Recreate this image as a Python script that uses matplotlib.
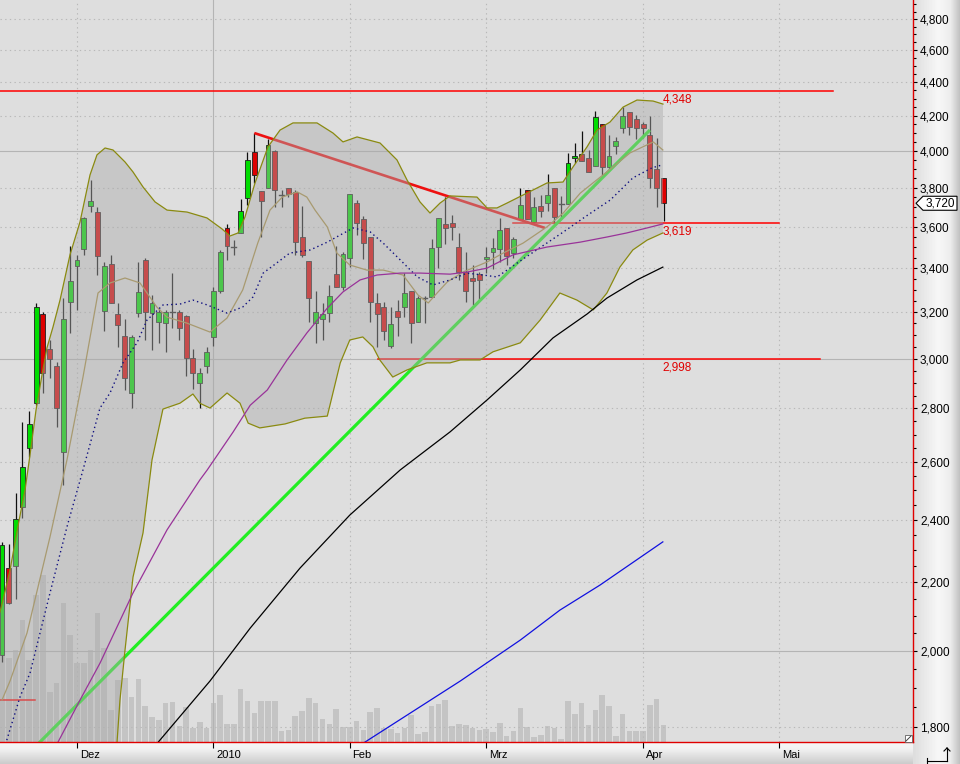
import numpy as np
import matplotlib
matplotlib.use("Agg")
import matplotlib.pyplot as plt
import matplotlib.transforms as mtransforms
from matplotlib.patches import Rectangle, Polygon
from matplotlib.ticker import FixedLocator, NullFormatter, FuncFormatter

plt.rcParams['font.family'] = ['Liberation Sans', 'DejaVu Sans']

# ---------------- data (x = trading-day index, 0 = 1 Dec 2009) ----------------
first_idx = -11
opens = [1990, 2244, 2250, 2442, 2650, 2820, 3191, 3040, 2969, 2636, 3244,
         3410, 3492, 3706, 3675, 3204, 3420, 3191, 3095, 2860, 3196,
         3439, 3196, 3156, 3151, 3200, 3200, 3182, 3002, 2900, 2969,
         3091, 3294, 3595, 3501, 3570, 3747, 3994, 3784, 3800, 4000,
         3763, 3800, 3779, 3550, 3434, 3151, 3168, 3196, 3372, 3312,
         3449, 3721, 3640, 3550, 3240, 3222, 3053, 3204, 3222, 3294,
         3156, 3262, 3267, 3501, 3615, 3620, 3501, 3382, 3354, 3372,
         3444, 3477, 3492, 3595, 3472, 3640, 3789, 3625, 3706, 3721,
         3800, 3716, 3716, 3961, 3983, 3961, 3918, 4151, 3912, 4028,
         4129, 4221, 4181, 4151, 4089, 3901, 3853]
highs = [2327, 2320, 2490, 2747, 2789, 3240, 3200, 3078, 2986, 3262, 3506,
         3463, 3650, 3842, 3700, 3429, 3463, 3240, 3168, 3100, 3429,
         3449, 3276, 3213, 3209, 3377, 3209, 3187, 3040, 2961, 3049,
         3312, 3487, 3615, 3535, 3742, 3994, 4100, 3784, 4066, 4005,
         3789, 3800, 3789, 3706, 3434, 3294, 3240, 3322, 3506, 3477,
         3768, 3737, 3655, 3550, 3285, 3244, 3222, 3253, 3377, 3294,
         3271, 3271, 3540, 3645, 3752, 3660, 3570, 3477, 3415, 3382,
         3501, 3545, 3645, 3595, 3550, 3800, 3789, 3752, 3763, 3874,
         3800, 3758, 3989, 4044, 4112, 4005, 4227, 4151, 4089, 4078,
         4250, 4221, 4204, 4163, 4198, 4072, 3853]
lows = [1970, 2136, 2150, 2406, 2618, 2812, 2860, 2920, 2728, 2517, 3108,
        3209, 3463, 3675, 3368, 3117, 3238, 3049, 2872, 2800, 3178,
        3078, 3036, 3066, 3028, 3130, 3078, 2928, 2876, 2800, 2941,
        3053, 3285, 3439, 3463, 3570, 3711, 3826, 3550, 3800, 3700,
        3700, 3752, 3463, 3453, 3156, 3066, 3078, 3156, 3312, 3299,
        3405, 3560, 3444, 3156, 3049, 3078, 3045, 3095, 3178, 3066,
        3156, 3151, 3267, 3400, 3515, 3535, 3345, 3244, 3231, 3253,
        3377, 3396, 3429, 3415, 3449, 3640, 3640, 3620, 3650, 3680,
        3615, 3640, 3716, 3934, 3945, 3885, 3918, 3869, 3896, 3983,
        4100, 4089, 4066, 4072, 3800, 3700, 3630]
closes = [2317, 2138, 2402, 2582, 2740, 3221, 2941, 3000, 2800, 3168, 3340,
          3439, 3645, 3732, 3458, 3410, 3240, 3143, 2920, 3091, 3290,
          3200, 3240, 3200, 3200, 3200, 3130, 3003, 2941, 2941, 3028,
          3294, 3477, 3506, 3501, 3680, 3950, 3869, 3732, 4033, 3789,
          3763, 3768, 3525, 3463, 3262, 3200, 3191, 3271, 3312, 3468,
          3768, 3620, 3520, 3244, 3191, 3117, 3147, 3177, 3285, 3151,
          3262, 3262, 3496, 3645, 3595, 3600, 3382, 3294, 3340, 3345,
          3453, 3496, 3585, 3458, 3540, 3711, 3640, 3700, 3680, 3763,
          3650, 3716, 3934, 3972, 3945, 3885, 4192, 3912, 3972, 4055,
          4198, 4135, 4129, 4129, 3853, 3800, 3720]
volumes = [920, 840, 920, 1220, 820, 1470, 1670, 500, 590, 1390, 1070,
           790, 790, 920, 1290, 940, 320, 620, 640, 450, 630,
           360, 250, 220, 390, 400, 160, 350, 140, 200, 140,
           390, 470, 180, 180, 530, 410, 290, 410, 410, 410,
           110, 120, 260, 310, 440, 390, 230, 180, 330, 150,
           150, 210, 120, 300, 340, 140, 130, 90, 140, 270,
           80, 100, 360, 380, 420, 160, 180, 170, 140, 120,
           130, 100, 190, 60, 110, 340, 150, 50, 70, 160,
           140, 30, 410, 280, 390, 170, 320, 470, 360, 60,
           280, 110, 110, 110, 370, 430, 170]

bb_upper_x = [-11.3, -10.85, -9.82, -8.65, -7.62, -6.89, -6.01, -5.13, -4.40, -3.52,
              -2.49, -1.03, 0.44, 1.91, 2.93, 4.11, 5.28, 7.04, 8.21, 9.68,
              11.44, 13.2, 16.13, 19.06, 21.26, 22.43, 23.61, 24.63, 26.1, 28.0,
              29.77, 31.67, 35.19, 37.54, 39.0, 41.06, 44.43, 46.92, 48.39, 50.29,
              51.76, 53.23, 54.69, 58.65, 60.12, 61.58, 63.05, 65.98, 68.91, 71.26,
              72.73, 74.78, 76.25, 78.15, 80.06, 82.11, 84.46, 85.92]
bb_upper = [2111, 2147, 2238, 2379, 2500, 2625, 2793, 2933, 3045, 3134,
            3253, 3463, 3625, 3869, 3978, 4016, 4005, 3939, 3885, 3805,
            3727, 3685, 3675, 3645, 3590, 3555, 3570, 3650, 3826, 4022,
            4117, 4158, 4158, 4100, 4050, 4078, 4044, 3950, 3842, 3727,
            3670, 3721, 3758, 3752, 3696, 3696, 3721, 3773, 3826, 3831,
            3912, 4022, 4117, 4163, 4250, 4292, 4286, 4268]
bb_lower_x = [-11.3, 5.5, 5.87, 6.30, 7.04, 8.21, 9.68, 11.0, 12.6, 15.1,
              17.0, 18.0, 19.5, 22.0, 23.9, 25.1, 26.8, 30.5, 33.4, 36.7,
              38.6, 40.0, 41.9, 43.4, 44.4, 46.3, 48.4, 51.3, 54.7, 56.2,
              59.1, 61.0, 65.0, 67.9, 70.8, 73.3, 75.7, 77.7, 79.6, 81.5,
              83.6, 85.9]
bb_lower = [1500, 1650, 1763, 1869, 2003, 2216, 2356, 2607, 2797, 2820,
            2856, 2820, 2801, 2860, 2820, 2743, 2725, 2740, 2762, 2770,
            2982, 3078, 3091, 3049, 2994, 2924, 2953, 2982, 2982, 2994,
            2994, 3028, 3066, 3164, 3285, 3253, 3209, 3285, 3405, 3487,
            3535, 3570]
bb_mid_x = [-11.0, -9.82, -7.33, -3.96, -1.47, 0.88, 3.08, 4.84, 7.04, 9.24,
            11.7, 13.2, 16.1, 19.5, 22.0, 24.3, 26.5, 28.3, 30.1, 32.3,
            33.7, 34.9, 36.7, 38.1, 40.0, 42.5, 44.9, 47.8, 50.0, 51.5,
            52.8, 54.3, 56.6, 60.1, 62.5, 65.4, 68.9, 71.3, 73.8, 76.2,
            78.6, 81.1, 84.5, 85.9]
bb_mid = [1869, 1919, 2051, 2343, 2607, 2924, 3285, 3331, 3354, 3331,
          3222, 3177, 3151, 3112, 3173, 3299, 3520, 3685, 3752, 3779,
          3752, 3685, 3600, 3472, 3415, 3391, 3391, 3368, 3276, 3240,
          3285, 3336, 3382, 3429, 3472, 3520, 3600, 3670, 3773, 3842,
          3912, 3989, 4050, 4005]
ma_dot_x = [-10.3, -8.36, -6.89, -3.96, -1.47, 0.88, 3.37, 4.84, 6.74, 8.80,
            10.26, 12.61, 15.10, 17.0, 19.1, 22.0, 24.3, 25.8, 27.3, 29.3,
            31.2, 34.2, 36.7, 38.6, 40.5, 43.0, 44.9, 47.4, 49.9, 52.2,
            54.7, 57.2, 59.5, 61.6, 65.2, 71.1, 74.9, 78.2, 81.5, 84.3, 85.8]
ma_dot = [1768, 1877, 1940, 2168, 2376, 2571, 2801, 2860, 2982, 3066,
          3164, 3231, 3235, 3253, 3231, 3195, 3222, 3267, 3377, 3425,
          3472, 3487, 3525, 3560, 3595, 3575, 3520, 3439, 3359, 3322,
          3345, 3377, 3368, 3359, 3439, 3570, 3660, 3737, 3853, 3907, 3923]
ma_purple_x = [-2.79, 0.44, 3.37, 8.21, 13.2, 18.0, 19.1, 22.9, 25.4, 27.9,
               30.8, 33.7, 36.7, 39.0, 41.5, 44.0, 47.4, 50.3, 54.7, 57.2,
               60.1, 63.9, 68.9, 73.8, 77.7, 80.6, 83.6, 85.9]
ma_purple = [1763, 1869, 1967, 2168, 2366, 2535, 2571, 2710, 2812, 2872,
             2994, 3108, 3217, 3290, 3345, 3368, 3377, 3377, 3372, 3382,
             3400, 3463, 3501, 3525, 3550, 3570, 3595, 3615]
ma_black_x = [11.9, 19.5, 25.4, 32.7, 40.0, 47.4, 54.7, 60.1, 65.0, 69.8, 74.8, 77.7, 82.1, 85.9]
ma_black = [1763, 1919, 2065, 2244, 2415, 2571, 2710, 2832, 2953, 3087, 3191, 3262, 3345, 3405]
ma_blue_x = [42.2, 56.2, 65.0, 70.8, 76.7, 85.9]
ma_blue = [1763, 1919, 2031, 2117, 2192, 2327]

trend_green_x = [-6.0, 84.0]
trend_green = [1754, 4117]
trend_red_x = [26.0, 68.6]
trend_red = [4100, 3595]

levels = [4348, 3619, 2998]
level_x0 = [-11.3, 63.9, 44.1]
level_x1 = [110.9, 102.9, 108.9]
old_level = 1869
old_level_x = [-11.3, -6.2]
last_price = 3720

month_idx = [0, 20, 40, 60, 83, 103]
month_labels = ["Dez", "2010", "Feb", "Mrz", "Apr", "Mai"]
major_ticks = [1800, 2000, 2200, 2400, 2600, 2800, 3000, 3200, 3400, 3600,
               3800, 4000, 4200, 4400, 4600, 4800]

# ---------------- figure layout ----------------
W, H = 960, 764
fig = plt.figure(figsize=(W / 100, H / 100), dpi=100)
fig.patch.set_facecolor('#D8D8D8')
PW, PH = 913, 742      # plot area in px (top-left anchored)

def fpt(x, y):
    return (x / W, 1 - y / H)

# gradient panels
ax_r = fig.add_axes([PW / W, 0, (W - PW) / W, 1], zorder=-2)
gr = np.interp(np.linspace(0, 1, 64), [0, 0.55, 0.8, 1.0], [0.87, 0.97, 0.93, 0.76])
ax_r.imshow(np.tile(gr, (2, 1))[:, :, None] * np.ones(3), aspect='auto', extent=[0, 1, 0, 1])
ax_r.set_axis_off()
ax_b = fig.add_axes([0, 0, PW / W, (H - PH) / H], zorder=-2)
gb = np.interp(np.linspace(0, 1, 32), [0, 0.3, 1], [0.97, 0.95, 0.80])
ax_b.imshow(gb[:, None, None] * np.ones((1, 2, 3)), aspect='auto', extent=[0, 1, 0, 1])
ax_b.set_axis_off()

rect = [0, (H - PH) / H, PW / W, PH / H]
ax_vol = fig.add_axes(rect, zorder=0)
ax = fig.add_axes(rect, zorder=1, sharex=ax_vol)
ax.patch.set_visible(False)

idx = np.arange(first_idx, first_idx + len(opens))

# volume
ax_vol.set_facecolor('#DEDEDE')
ax_vol.bar(idx, volumes, width=0.82, color='#C4C4C4', linewidth=0)
ax_vol.set_ylim(0, 7420)
ax_vol.set_yticks([])
for s in ax_vol.spines.values():
    s.set_visible(False)

# price axes
ax.set_yscale('log')
ax.set_xlim(-11.29, 122.58)
ax.set_ylim(1763.5, 4930)

# grid
for v in major_ticks:
    if v in (2000, 3000, 4000):
        ax.axhline(v, color='#B4B4B4', lw=0.8, zorder=0.5)
    else:
        ax.axhline(v, color='#B8B8B8', lw=0.8, ls=(0, (1.2, 3)), zorder=0.5)
for m, lab in zip(month_idx, month_labels):
    if lab == "2010":
        ax.axvline(m, color='#B4B4B4', lw=0.8, zorder=0.5)
    else:
        ax.axvline(m, color='#B8B8B8', lw=0.8, ls=(0, (1.2, 3)), zorder=0.5)

# candles
bw = 0.72
for i, o, h, l, c in zip(idx, opens, highs, lows, closes):
    ax.plot([i, i], [l, h], color='#101010', lw=0.9, zorder=2, solid_capstyle='butt')
    if abs(c - o) < 2:
        ax.plot([i - bw / 2, i + bw / 2], [c, c], color='#202020', lw=1.0, zorder=2.1)
    else:
        col = '#00DD00' if c > o else '#DD0000'
        ax.add_patch(Rectangle((i - bw / 2, min(o, c)), bw, abs(c - o), facecolor=col,
                               edgecolor='#202020', lw=0.6, zorder=2.1))

# trend lines and levels (under band shading)
ax.plot(trend_green_x, trend_green, color='#22EE22', lw=2.3, zorder=2.5, solid_capstyle='butt')
ax.plot(trend_red_x, trend_red, color='#EE1010', lw=1.9, zorder=2.5, solid_capstyle='butt')
for lv, x0, x1 in zip(levels, level_x0, level_x1):
    ax.plot([x0, x1], [lv, lv], color='#FF0000', lw=1.1, zorder=2.4)
    ax.annotate(f"{lv:,}", xy=(idx[-1] - 0.1, lv), xytext=(0, -2), textcoords='offset points',
                ha='left', va='top', color='#E00000', fontsize=8.5, zorder=10)
ax.plot(old_level_x, [old_level, old_level], color='#FF0000', lw=1.1, zorder=2.4)

# Bollinger band shading
poly = list(zip(bb_upper_x, bb_upper)) + list(zip(bb_lower_x[::-1], bb_lower[::-1]))
ax.add_patch(Polygon(poly, closed=True, facecolor='#ABABAB', alpha=0.45, lw=0, zorder=3))
ax.plot(bb_upper_x, bb_upper, color='#8A8A10', lw=0.9, zorder=4)
ax.plot(bb_lower_x, bb_lower, color='#8A8A10', lw=0.9, zorder=4)
ax.plot(bb_mid_x, bb_mid, color='#A89A70', lw=0.9, zorder=4)

# moving averages
ax.plot(ma_dot_x, ma_dot, color='#101080', lw=1.0, ls=(0, (1, 2.2)), zorder=5)
ax.plot(ma_purple_x, ma_purple, color='#993399', lw=0.9, zorder=5)
ax.plot(ma_black_x, ma_black, color='#000000', lw=0.9, zorder=5)
ax.plot(ma_blue_x, ma_blue, color='#1010E0', lw=0.9, zorder=5)

# axes styling
for s in ('top', 'left'):
    ax.spines[s].set_visible(False)
for s in ('right', 'bottom'):
    ax.spines[s].set_color('#E00000')
    ax.spines[s].set_linewidth(1.0)
    ax.spines[s].set_zorder(20)
ax.yaxis.tick_right()
ax.yaxis.set_major_locator(FixedLocator(major_ticks))
ax.yaxis.set_major_formatter(FuncFormatter(lambda v, p: f"{v:,.0f}"))
ax.yaxis.set_minor_locator(FixedLocator([v for v in range(1800, 4901, 50) if v % 200]))
ax.yaxis.set_minor_formatter(NullFormatter())
ax.tick_params(axis='y', which='major', length=3, width=0.8, pad=2, labelsize=8.5, colors='black')
ax.tick_params(axis='y', which='minor', length=2.5, width=0.8, colors='black')
ax.set_xticks(month_idx)
ax.set_xticklabels(month_labels)
ax.tick_params(axis='x', length=4, width=0.8, pad=1.5, labelsize=8, colors='black')
for lbl in ax.get_xticklabels():
    lbl.set_horizontalalignment('left')
    lbl.set_transform(lbl.get_transform() + mtransforms.ScaledTranslation(2 / 72, 0, fig.dpi_scale_trans))
ax_vol.tick_params(axis='x', length=0, labelbottom=False)

# last price marker
px_y = (np.log(4930) - np.log(last_price)) / (np.log(4930) - np.log(1763.5)) * PH
pts = [fpt(916, px_y), fpt(923, px_y - 7), fpt(957, px_y - 7), fpt(957, px_y + 7), fpt(923, px_y + 7)]
fig.add_artist(Polygon(pts, closed=True, transform=fig.transFigure, facecolor='white',
                       edgecolor='black', lw=0.8, zorder=30))
fig.text(*fpt(940, px_y), f"{last_price:,}", ha='center', va='center', fontsize=8.5, zorder=31)

# small widgets
fig.add_artist(Rectangle(fpt(905, 742), 7 / W, 7 / H, transform=fig.transFigure,
                         facecolor='white', edgecolor='#606060', lw=0.6, zorder=30))
fig.add_artist(plt.Line2D([fpt(906, 741)[0], fpt(911, 736)[0]], [fpt(906, 741)[1], fpt(911, 736)[1]],
                          transform=fig.transFigure, color='#404040', lw=0.7, zorder=31))
for (xa, ya), (xb, yb) in [((927, 761), (947, 761)), ((947, 761), (947, 748)),
                           ((944, 751), (947, 748)), ((950, 751), (947, 748)), ((927, 758), (927, 764))]:
    a, b = fpt(xa, ya), fpt(xb, yb)
    fig.add_artist(plt.Line2D([a[0], b[0]], [a[1], b[1]], transform=fig.transFigure,
                              color='black', lw=0.8, zorder=31))

fig.savefig("out.png", dpi=100)
